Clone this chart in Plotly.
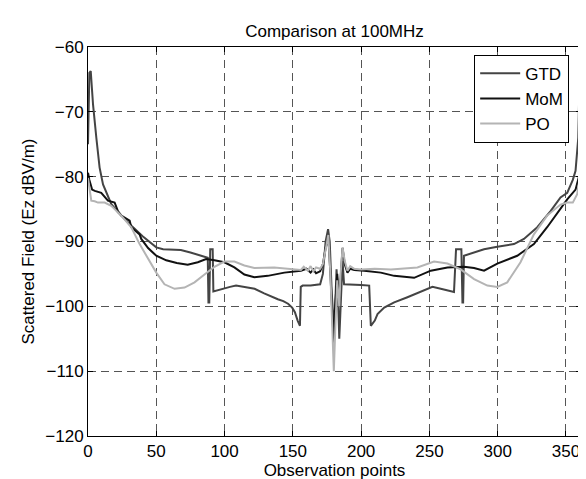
import plotly.graph_objects as go

# ---- data ----
gtd_x = [0, 1, 2, 3.7, 6.1, 8.5, 11, 14, 17, 22, 27, 32, 40, 50, 55, 62, 68, 75, 82, 87.7,
         88.2, 88.8, 89.5, 91.3, 91.8, 95, 100, 104, 108.4, 115, 122, 129, 134, 139, 143,
         146.5, 149.5, 151.5, 153.5, 155.2, 155.8, 157.2, 163, 168, 170, 172, 174, 175.8, 177,
         178.5, 180, 181, 182, 183, 184, 185, 186.4, 187.5, 188.8, 195, 200, 205.9, 206.5,
         207.1, 210, 212, 216.9, 224.2, 233.9, 243.6, 252.2, 258.3, 268, 269.5, 270.5, 273.4,
         274.2, 274.7, 275.3, 282.7, 290, 299.7, 311.9, 319.2, 329, 338.7, 346, 350.9, 355,
         357, 359, 360]
gtd_y = [-75, -64, -63.7, -68.9, -74, -78.6, -81.2, -82.8, -84.2, -85.5, -86.6, -87.6, -89.2,
         -90.9, -91.2, -91.2, -91.3, -91.7, -92.1, -92.5, -99.4, -99.4, -91.2, -91.2, -97.7,
         -97.5, -97.3, -97.0, -96.8, -97.0, -97.3, -98, -98.5, -98.9, -99.2, -99.6, -100.2,
         -100.9, -102.2, -103, -97, -96.8, -96.8, -96.6, -96.6, -95, -90, -88.1, -90, -98,
         -103, -100, -94.3, -98, -105, -100, -93, -96.6, -96.6, -96.6, -96.7, -96.8, -100,
         -103, -102.2, -101.2, -100.2, -99.4, -98.6, -97.8, -97, -97.3, -97.8, -91.2, -91.2,
         -91.2, -99.4, -99.4, -92.2, -91.7, -91.2, -90.8, -90.4, -89.6, -87.8, -85.3, -83.2,
         -82.5, -80.5, -79.1, -74, -64.5]

mom_x = [0, 1, 3, 5, 9.7, 12.9, 14.6, 19.5, 21.9, 24.4, 30.5, 31.7, 37.8, 39, 44, 50, 57.3,
         65, 73, 80.4, 86.5, 92.6, 99.9, 107.2, 114.5, 121.8, 131.6, 143.8, 155.9, 160, 163,
         165, 167, 170, 172, 174, 176, 177.5, 179, 180, 181, 182.5, 184, 185, 186.4, 188,
         190, 192, 195, 202.2, 214.4, 224.2, 238.8, 251, 263.2, 275.3, 282.7, 290, 299.7,
         314.3, 326.5, 336.2, 346, 350.9, 357, 360]
mom_y = [-79.4, -80.5, -82, -82.2, -82.5, -83.2, -83.7, -84, -85.3, -86, -86.8, -87.8, -88.9,
         -89.6, -91, -92.2, -92.9, -93.3, -93.6, -93.2, -92.7, -92.9, -93.2, -94, -95.1,
         -95.5, -95.3, -94.8, -94.5, -94.2, -94.8, -94.3, -94.9, -94.6, -93.5, -91, -89.4,
         -95, -102, -106, -100, -95, -99, -95, -91, -93.5, -94.8, -94.2, -94.4, -94.5, -94.8,
         -95.3, -95.6, -94.5, -94, -93.9, -94.1, -94.5, -93.4, -92.2, -90.4, -87.8, -84.8,
         -83.5, -82, -79.6]

po_x = [0, 1, 2.4, 4.9, 7.3, 12.2, 17, 24.4, 31.7, 37.8, 43.9, 50, 56, 63.4, 70.7, 78, 85.3,
        92.6, 99.9, 107.2, 114.5, 121.8, 136.4, 146.2, 155.9, 158, 161, 163, 165, 167, 170,
        172, 174, 176, 177.5, 179, 180, 181, 182.5, 184, 185, 186.4, 188, 190, 192, 195, 200,
        210, 221.8, 241.2, 253.4, 263.2, 272.9, 282.7, 292.4, 299.7, 307, 316.7, 326.5,
        336.2, 346, 350.9, 355, 358.2, 360]
po_y = [-80.2, -82, -83.7, -83.8, -84, -84, -84.5, -86, -87.8, -90.4, -92.7, -94.8, -96.6,
        -97.3, -97.1, -96.3, -95.1, -93.9, -93.1, -93.1, -93.7, -94.1, -94, -94.2, -94.4,
        -93.9, -94.5, -93.8, -94.6, -94, -94.2, -93.5, -91, -89, -95, -105, -110, -104, -96,
        -100, -95, -90.9, -93, -94.5, -93.8, -94.2, -94.3, -94.2, -94.3, -94, -93.1, -93.4,
        -94.3, -95.8, -96.8, -97, -96.3, -93.2, -88.9, -86, -84.3, -84, -84, -82.7, -80.3]

x_ticks = [0, 50, 100, 150, 200, 250, 300, 350]
y_ticks = [-120, -110, -100, -90, -80, -70, -60]

FONT = "Liberation Sans, Arial, sans-serif"

fig = go.Figure()
fig.add_trace(go.Scatter(x=gtd_x, y=gtd_y, mode="lines", name="GTD",
                         line=dict(color="#444444", width=2)))
fig.add_trace(go.Scatter(x=mom_x, y=mom_y, mode="lines", name="MoM",
                         line=dict(color="#111111", width=2)))
fig.add_trace(go.Scatter(x=po_x, y=po_y, mode="lines", name="PO",
                         line=dict(color="#b4b4b4", width=2)))

axis_common = dict(
    showline=True, linecolor="black", linewidth=1, mirror="ticks",
    ticks="inside", ticklen=5, tickcolor="black",
    showgrid=True, gridcolor="#555555", gridwidth=1, griddash="8px,5px",
    zeroline=False, tickfont=dict(family=FONT, size=17, color="black"),
)

fig.update_xaxes(range=[0, 361], tickvals=x_ticks,
                 title=dict(text="Observation points", font=dict(family=FONT, size=17, color="black"),
                            standoff=2),
                 **axis_common)
fig.update_yaxes(range=[-120, -60], tickvals=y_ticks,
                 title=dict(text="Scattered Field (Ez dBV/m)", font=dict(family=FONT, size=17, color="black"),
                            standoff=6),
                 **axis_common)

fig.update_layout(
    width=586, height=479,
    margin=dict(l=80, r=12, t=39, b=49),
    paper_bgcolor="white", plot_bgcolor="white",
    title=dict(text="Comparison at 100MHz", x=0.5, xref="paper", y=1 - 23 / 479, yanchor="middle",
               font=dict(family=FONT, size=17, color="black")),
    legend=dict(x=0.976, y=0.98, xanchor="right", yanchor="top",
                bgcolor="white", bordercolor="black", borderwidth=1,
                font=dict(family=FONT, size=17, color="black"),
                tracegroupgap=0, itemwidth=40),
    showlegend=True,
)

fig.write_html("out.html")
